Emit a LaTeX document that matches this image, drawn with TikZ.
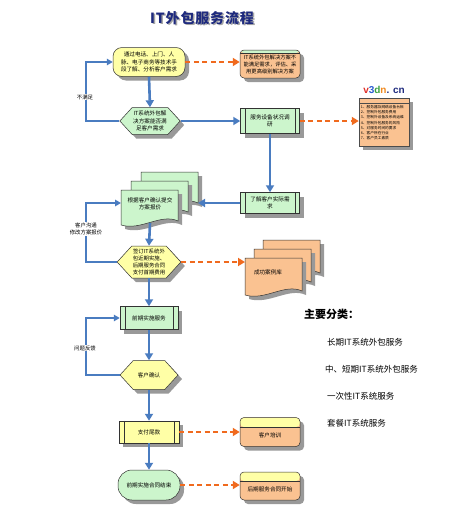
\documentclass[tikz,border=0pt]{standalone}
\usepackage{fontspec}
\setmainfont{Liberation Serif}
\newfontfamily\cjk{Noto Sans CJK SC}
\newfontfamily\wm{Liberation Sans}
\usetikzlibrary{shapes.symbols,shadows,arrows.meta}
\definecolor{yellowF}{HTML}{FFFFA6}
\definecolor{greenF}{HTML}{CCF5CC}
\definecolor{peachF}{HTML}{FAC291}
\definecolor{blueA}{HTML}{4A7CC0}
\definecolor{orangeA}{HTML}{F06A1E}
\definecolor{navyT}{HTML}{1E2A7E}
\newcommand\pbars[1]{\draw[line width=0.5pt,black!80] ([xshift=5pt]#1.north west) -- ([xshift=5pt]#1.south west) ([xshift=-5pt]#1.north east) -- ([xshift=-5pt]#1.south east);}
\newcommand\onedoc[5]{%
 \fill[black!40] ({#1+4},{#2+4}) -- ({#1+#3+4},{#2+4}) -- ({#1+#3+4},{#2+#4}) .. controls ({#1+0.7*#3+4},{#2+#4-8}) and ({#1+0.35*#3+4},{#2+#4+10}) .. ({#1+4},{#2+#4+4}) -- cycle;
 \draw[#5,draw=black!80,line width=0.5pt] (#1,#2) -- ({#1+#3},#2) -- ({#1+#3},{#2+#4-4}) .. controls ({#1+0.7*#3},{#2+#4-12}) and ({#1+0.35*#3},{#2+#4+6}) .. (#1,{#2+#4}) -- cycle;}
\tikzset{
 shad/.style={drop shadow={shadow xshift=4pt,shadow yshift=-4pt,fill=black!40,opacity=1}},
 box/.style={draw=black!80, line width=0.5pt, font=\cjk\fontsize{5.6}{7.2}\selectfont, align=center, inner sep=1pt, shad},
 yround/.style={box, rectangle, rounded corners=9pt, fill=yellowF},
 hexa/.style={box, shape=signal, signal to=east and west, signal from=nowhere, signal pointer angle=95, minimum width=58pt},
 proc/.style={box, rectangle, minimum width=59pt},
 hdrbox/.style 2 args={box, rectangle, rounded corners=4pt, fill=peachF, minimum width=60pt,
   path picture={\fill[#1] (path picture bounding box.north west) rectangle ([yshift=-#2]path picture bounding box.north east);
   \draw[black!80,line width=.5pt] ([yshift=-#2]path picture bounding box.north west) -- ([yshift=-#2]path picture bounding box.north east);}},
 bflow/.style={draw=blueA, line width=2.6pt, -{Triangle[length=7pt,width=8pt]}},
 oflow/.style={draw=orangeA, line width=2.6pt, dash pattern=on 5pt off 3.5pt, -{Triangle[length=7pt,width=8pt]}},
 fb/.style={draw=blueA, line width=1.6pt, -{Triangle[length=6pt,width=6.5pt]}},
 fblabel/.style={fill=white, inner sep=0.8pt, font=\cjk\fontsize{5.4}{7}\selectfont, align=center},
 doctext/.style={font=\cjk\fontsize{5.6}{7.2}\selectfont, align=center, inner sep=1pt},
 cattext/.style={anchor=west, font=\cjk\fontsize{8.5}{8.5}\selectfont, inner sep=0pt}
}
\begin{document}
\begin{tikzpicture}[x=1pt,y=-1pt]
\useasboundingbox (0,0) rectangle (474,514);
\fill[white] (0,0) rectangle (474,514);
% title
\node[font=\cjk\bfseries\fontsize{14}{14}\selectfont\addfontfeature{LetterSpace=6}, text=black!35] (titleS) at (203.5,19.5) {IT外包服务流程};
\node[font=\cjk\bfseries\fontsize{14}{14}\selectfont\addfontfeature{LetterSpace=6}, text=navyT] (title) at (202,18) {IT外包服务流程};
% nodes
\node[yround, minimum width=72pt, minimum height=29pt] (n1) at (149,62) {通过电话、上门、人\\脉、电子商务等技术手\\段了解、分析客户需求};
\node[hdrbox={greenF}{3pt}, minimum height=28pt, font=\cjk\fontsize{5.3}{7}\selectfont] (n2) at (270,64) {IT系统外包解决方案不\\能满足需求，评估、采\\用更高级别解决方案};
\node[hexa, fill=greenF, minimum height=27pt] (n3) at (150,121) {IT系统外包解\\决方案能否满\\足客户需求};
\node[proc, fill=greenF, minimum height=25pt] (n4) at (270,121) {服务设备状况调\\研};
\pbars{n4}
% list box
\fill[black!40] (363,102) rectangle (413,150);
\node[draw=black!70, line width=0.5pt, fill=peachF, minimum width=50pt, minimum height=48pt, inner sep=0pt] (lst) at (384,122) {};
\draw[black!70, line width=0.5pt] ([yshift=-5pt]lst.north west) -- ([yshift=-5pt]lst.north east);
\node[anchor=north west, align=left, inner sep=0pt, font=\cjk\fontsize{3.7}{5.3}\selectfont] (lstt) at ([xshift=2pt,yshift=-7pt]lst.north west)
 {1、服务器及网络设备台帐\\2、控制外包服务费用\\3、控制外设备及系统运维\\4、控制外包服务的风险\\5、对服务时间的要求\\6、客户所在行业\\7、客户员工素质};
\node[font=\wm\bfseries\fontsize{10}{10}\selectfont, inner sep=0pt] (wmk) at (384,90)
 {\textcolor[HTML]{E0302A}{v}\textcolor[HTML]{2A5BD0}{3}\textcolor[HTML]{3AA040}{d}\textcolor[HTML]{F08A20}{n}\textcolor[HTML]{1E2A7E}{. cn}};
\node[proc, fill=greenF, minimum height=21pt] (n5) at (270,203) {了解客户实际需\\求};
\pbars{n5}
% green stacked documents
\onedoc{141}{172}{57}{35}{fill=greenF}
\onedoc{131}{181}{57}{35}{fill=greenF}
\onedoc{121}{190}{57}{35}{fill=greenF}
\node[doctext] (n6) at (150,204) {根据客户确认提交\\方案报价};
\coordinate (d6r) at (198,203);
\coordinate (d6l) at (121,203);
\coordinate (d6b) at (150,223);
\node[hexa, fill=yellowF, minimum height=32pt, font=\cjk\fontsize{5.4}{7}\selectfont] (n7) at (149,262) {签订IT系统外\\包近期实施、\\后期服务合同\\支付首期费用};
% orange stacked documents
\onedoc{263}{240}{57}{37}{fill=peachF}
\onedoc{254}{249}{57}{37}{fill=peachF}
\onedoc{245}{258}{57}{37}{fill=peachF}
\node[doctext] (n8) at (268,272) {成功案例库};
\coordinate (d8l) at (245,262);
\node[proc, fill=greenF, minimum width=58pt, minimum height=23pt] (n9) at (149,318) {前期实施服务};
\pbars{n9}
\node[hexa, fill=yellowF, minimum height=29pt] (n10) at (149,375) {客户确认};
\node[proc, fill=yellowF, minimum width=60pt, minimum height=22pt] (n11) at (149,432) {支付尾款};
\pbars{n11}
\node[hdrbox={yellowF}{9.5pt}, minimum height=29pt, text height=11pt, text depth=1pt] (n12) at (270,432) {客户培训};
\node[box, rectangle, rounded corners=14pt, fill=greenF, minimum width=62pt, minimum height=30pt] (n13) at (149,485) {前期实施合同结束};
\node[hdrbox={yellowF}{9pt}, minimum height=28pt, text height=11pt, text depth=1pt] (n14) at (270,486) {后期服务合同开始};
% categories
\node[anchor=west, inner sep=0pt, font=\cjk\bfseries\fontsize{11}{11}\selectfont] (cat) at (304,314) {主要分类：};
\node[cattext] (c1) at (327,342) {长期IT系统外包服务};
\node[cattext] (c2) at (325,369) {中、短期IT系统外包服务};
\node[cattext] (c3) at (327,396) {一次性IT系统服务};
\node[cattext] (c4) at (327,423) {套餐IT系统服务};
% connectors
\coordinate (fbx) at (86,0);
\draw[bflow] (n1.south) -- (n3.north);
\draw[oflow] (n1.east) -- (n1.east -| n2.west);
\draw[fb] (n3.west) -- (n3.west -| fbx) |- (n1.west);
\node[fblabel] (l1) at (85,97) {不满足};
\draw[bflow] (n3.east) -- (n3.east -| n4.west);
\draw[oflow] (n4.east) -- (n4.east -| lst.west);
\draw[bflow] (n4.south) -- (n5.north);
\draw[bflow] (n5.west) -- (d6r);
\draw[bflow] (d6b) -- (n7.north);
\draw[oflow] (n7.east) -- (d8l);
\draw[fb] (n7.west) -- (n7.west -| fbx) |- (d6l);
\node[fblabel] (l2) at (86,229) {客户沟通\\修改方案报价};
\draw[bflow] (n7.south) -- (n9.north);
\draw[bflow] (n9.south) -- (n10.north);
\draw[fb] (n10.west) -- (n10.west -| fbx) |- (n9.west);
\node[fblabel] (l3) at (85,348) {问题反馈};
\draw[bflow] (n10.south) -- (n11.north);
\draw[oflow] (n11.east) -- (n11.east -| n12.west);
\draw[bflow] (n11.south) -- (n13.north);
\draw[oflow] (n13.east) -- (n13.east -| n14.west);
\end{tikzpicture}
\end{document}
